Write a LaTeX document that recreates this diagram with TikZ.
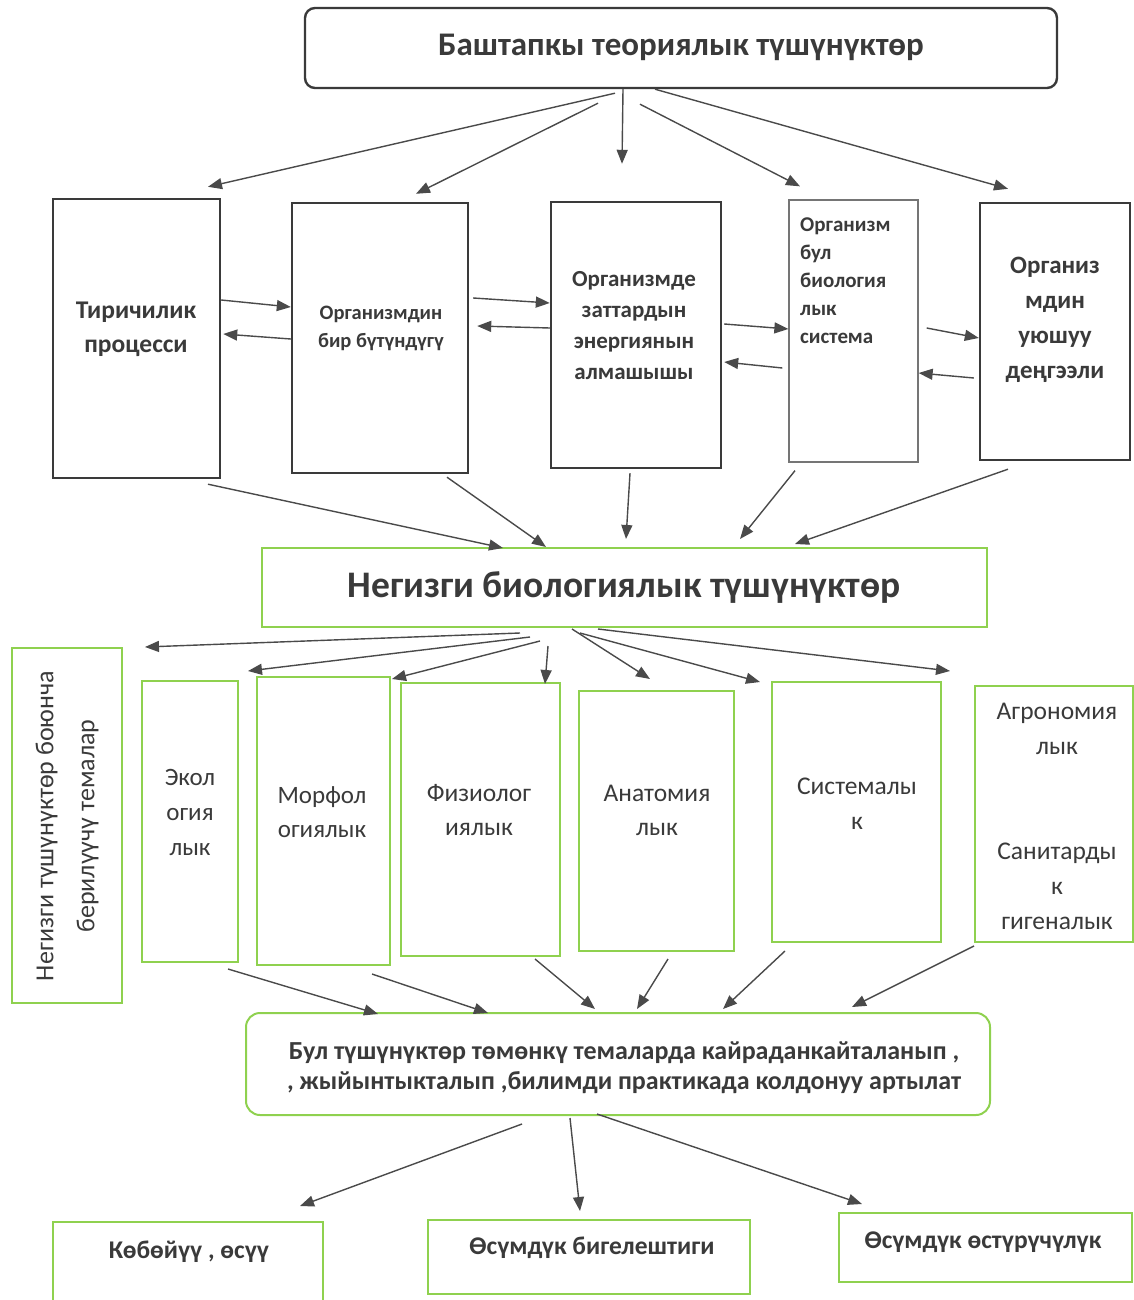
\documentclass[tikz,border=0pt]{standalone}
\usepackage{fontspec}
\setmainfont{Carlito}
\usetikzlibrary{arrows.meta,calc}
\definecolor{ink}{HTML}{3A3A3A}
\definecolor{pen}{HTML}{4A4A4A}
\definecolor{leaf}{HTML}{8FD14F}

\begin{document}
\begin{tikzpicture}[x=1pt,y=-1pt,
    blk/.style={draw=ink,line width=2.4pt,inner sep=0pt},
    grn/.style={draw=leaf,line width=2pt,inner sep=0pt},
    bt/.style={text=ink,align=center,inner sep=0pt},
    arr/.style={-{Triangle[length=14pt,width=11pt]},draw=pen,line width=1.4pt}]
  \useasboundingbox (0,0) rectangle (1134,1300);

  % top
  \node[blk,rounded corners=10pt,minimum width=752pt,minimum height=80pt] (top) at (681,48) {};
  \node[bt,font=\fontsize{33}{38}\selectfont\bfseries] (topt) at (681,47) {Баштапкы теориялык түшүнүктөр};

  % first row
  \node[blk,minimum width=167pt,minimum height=279pt] (b1) at (136.5,338.5) {};
  \node[blk,minimum width=176pt,minimum height=270pt] (b2) at (380,338) {};
  \node[blk,minimum width=170pt,minimum height=266pt] (b3) at (636,335) {};
  \node[blk,draw=ink!70,line width=1.3pt,minimum width=129pt,minimum height=262pt] (b4) at (853.5,331) {};
  \node[blk,minimum width=150pt,minimum height=257pt] (b5) at (1055,331.5) {};
  \node[bt,font=\fontsize{25.5}{34}\selectfont\bfseries] (b1t) at (136,329) {Тиричилик\\процесси};
  \node[bt,font=\fontsize{20.5}{28}\selectfont\bfseries] (b2t) at (381,328) {Организмдин\\бир бүтүндүгү};
  \node[bt,font=\fontsize{23}{31}\selectfont\bfseries] (b3t) at (634,326) {Организмде\\заттардын\\энергиянын\\алмашышы};
  \node[bt,align=left,anchor=west,font=\fontsize{21}{28}\selectfont\bfseries] (b4t) at (800,281) {Организм\\бул\\биология\\лык\\система};
  \node[bt,font=\fontsize{25}{35}\selectfont\bfseries] (b5t) at (1055,320) {Организ\\мдин\\уюшуу\\деңгээли};

  \draw[arr] ($(top.south)+(-66,4)$) -- ($(b1.north)+(71.5,-11)$);
  \draw[arr] ($(top.south)+(-83,14)$) -- ($(b2.north)+(36,-8)$);
  \draw[arr] ($(top.south)+(-58,0)$) -- ($(b3.north)+(-14,-37)$);
  \draw[arr] ($(top.south)+(-41,15)$) -- ($(b4.north)+(-53.5,-13)$);
  \draw[arr] ($(top.south)+(-26,0)$) -- ($(b5.north)+(-47,-13)$);

  \draw[arr] (b1.east |- 0,300) -- (b2.west |- 0,307);
  \draw[arr] (b2.west |- 0,339) -- ([xshift=2pt]b1.east |- 0,334);
  \draw[arr] ([xshift=4pt]b2.east |- 0,298) -- (b3.west |- 0,303);
  \draw[arr] (b3.west |- 0,328) -- ([xshift=8pt]b2.east |- 0,326);
  \draw[arr] ([xshift=2pt]b3.east |- 0,324) -- (b4.west |- 0,329);
  \draw[arr] ([xshift=-6pt]b4.west |- 0,368) -- ([xshift=2pt]b3.east |- 0,362);
  \draw[arr] ([xshift=8pt]b4.east |- 0,328) -- (b5.west |- 0,338);
  \draw[arr] ([xshift=-5pt]b5.west |- 0,378) -- (b4.east |- 0,373);

  % middle
  \node[grn,minimum width=725pt,minimum height=79pt] (mid) at (624.5,587.5) {};
  \node[bt,font=\fontsize{37.5}{42}\selectfont\bfseries] (midt) at (624,588) {Негизги биологиялык түшүнүктөр};

  \draw[arr] ($(b1.south)+(71.5,5)$) -- ($(mid.north)+(-121.5,1)$);
  \draw[arr] ($(b2.south)+(67,3)$) -- ($(mid.north)+(-78.5,0)$);
  \draw[arr] ($(b3.south)+(-6,4)$) -- ($(mid.north)+(1.5,-8)$);
  \draw[arr] ($(b4.south)+(-58.5,8)$) -- ($(mid.north)+(115.5,-8)$);
  \draw[arr] ($(b5.south)+(-47,8)$) -- ($(mid.north)+(170.5,-3)$);

  % second row
  \node[grn,minimum width=110pt,minimum height=355pt] (side) at (67,825.5) {};
  \node[grn,minimum width=96pt,minimum height=281pt] (g1) at (190,821.5) {};
  \node[grn,minimum width=133pt,minimum height=288pt] (g2) at (323.5,821) {};
  \node[grn,minimum width=159pt,minimum height=273pt] (g3) at (480.5,819.5) {};
  \node[grn,minimum width=155pt,minimum height=260pt] (g4) at (656.5,821) {};
  \node[grn,minimum width=169pt,minimum height=260pt] (g5) at (856.5,812) {};
  \node[grn,minimum width=158pt,minimum height=256pt] (g6) at (1054,814) {};
  \node[bt,rotate=90,font=\fontsize{26}{41}\selectfont] (sidet) at (67,826) {Негизги түшүнүктөр боюнча\\берилүүчү темалар};
  \node[bt,font=\fontsize{25}{35}\selectfont] (g1t) at (190,812) {Экол\\огия\\лык};
  \node[bt,font=\fontsize{25}{34}\selectfont] (g2t) at (322,812) {Морфол\\огиялык};
  \node[bt,font=\fontsize{25.5}{34}\selectfont] (g3t) at (479,810) {Физиолог\\иялык};
  \node[bt,font=\fontsize{25.5}{34}\selectfont] (g4t) at (657,810) {Анатомия\\лык};
  \node[bt,font=\fontsize{25.5}{35}\selectfont] (g5t) at (857,804) {Системалы\\к};
  \node[bt,font=\fontsize{25.5}{35}\selectfont] (g6t) at (1057,816) {Агрономия\\лык\\[70pt]Санитарды\\к\\гигеналык};

  \draw[arr] ($(mid.south)+(-104.5,5)$) -- ($(side.north)+(78,0)$);
  \draw[arr] ($(mid.south)+(-94.5,9)$) -- ($(g2.north)+(-75.5,-5)$);
  \draw[arr] ($(mid.south)+(-84.5,13)$) -- ($(g3.north)+(-88.5,-3)$);
  \draw[arr] ($(mid.south)+(-76.5,18)$) -- ($(g3.north)+(64.5,2)$);
  \draw[arr] ($(mid.south)+(-52.5,1)$) -- ($(g4.north)+(-6.5,-11)$);
  \draw[arr] ($(mid.south)+(-44.5,5)$) -- ($(g5.north)+(-96.5,1)$);
  \draw[arr] ($(mid.south)+(-26.5,1)$) -- ($(g6.north)+(-104,-14)$);

  % summary
  \node[grn,rounded corners=14pt,minimum width=744pt,minimum height=102pt] (sum) at (618,1064) {};
  \node[bt,font=\fontsize{26}{30}\selectfont\bfseries] (sumt) at (624,1068) {Бул түшүнүктөр төмөнкү темаларда кайраданкайталанып ,\\, жыйынтыкталып ,билимди практикада колдонуу артылат};

  \draw[arr] ($(g1.south)+(38,6)$) -- ($(sum.north)+(-240,2)$);
  \draw[arr] ($(g2.south)+(48.5,8)$) -- ($(sum.north)+(-130,1)$);
  \draw[arr] ($(g3.south)+(54.5,2)$) -- ($(sum.north)+(-23,-3)$);
  \draw[arr] ($(g4.south)+(11.5,7)$) -- ($(sum.north)+(19,-3)$);
  \draw[arr] ($(g5.south)+(-71.5,8)$) -- ($(sum.north)+(105,-3)$);
  \draw[arr] ($(g6.south west)+(0,3)$) -- ($(sum.north)+(234,-5)$);

  % bottom
  \node[grn,minimum width=270pt,minimum height=80pt] (k1) at (188,1262) {};
  \node[grn,minimum width=322pt,minimum height=74pt] (k2) at (589,1257) {};
  \node[grn,minimum width=293pt,minimum height=69pt] (k3) at (985.5,1247.5) {};
  \node[bt,font=\fontsize{25.5}{30}\selectfont\bfseries] (k1t) at (189,1252) {Көбөйүү , өсүү};
  \node[bt,font=\fontsize{25.5}{30}\selectfont\bfseries] (k2t) at (592,1248) {Өсүмдүк бигелештиги};
  \node[bt,font=\fontsize{25.5}{30}\selectfont\bfseries] (k3t) at (983,1242) {Өсүмдүк өстүрүчүлүк};

  \draw[arr] ($(sum.south)+(-96,8)$) -- ($(k1.north)+(112,-15)$);
  \draw[arr] ($(sum.south)+(-48,2)$) -- ($(k2.north)+(-9,-8)$);
  \draw[arr] ($(sum.south)+(-21,-2)$) -- ($(k3.north)+(-123.5,-8)$);
\end{tikzpicture}
\end{document}
